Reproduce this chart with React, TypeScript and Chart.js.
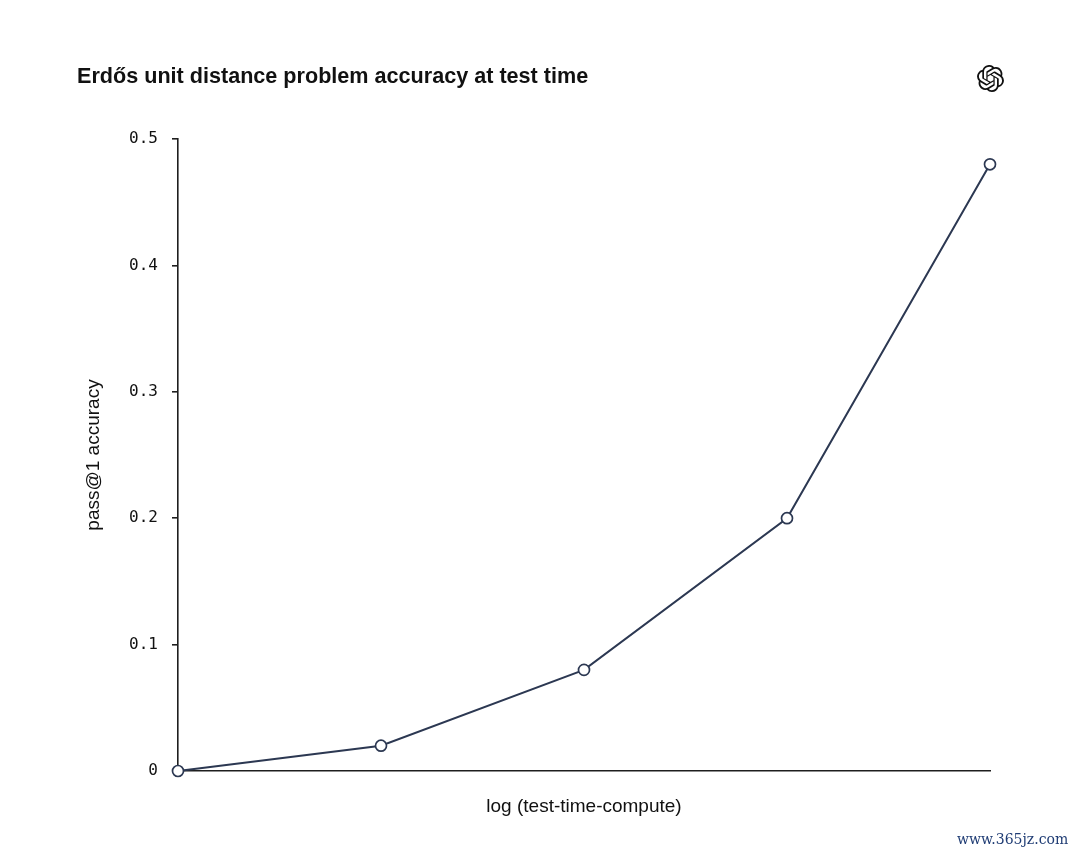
import React, { useEffect, useRef } from "react";
import { Chart, registerables } from "chart.js";

Chart.register(...registerables);

const title = "Erdős unit distance problem accuracy at test time";
const xTitle = "log (test-time-compute)";
const yTitle = "pass@1 accuracy";
const computeSteps = ["1", "2", "3", "4", "5"];
const accuracy = [0, 0.02, 0.08, 0.2, 0.48];
const yTicks = [0, 0.1, 0.2, 0.3, 0.4, 0.5];
const watermark = "www.365jz.com";

const LINE = "#2c3852";
const AXIS = "#1e1e1e";

export default function App() {
  const ref = useRef<HTMLCanvasElement | null>(null);

  useEffect(() => {
    document.body.style.margin = "0";
    const ctx = ref.current;
    if (!ctx) return;
    const chart = new Chart(ctx, {
      type: "line",
      data: {
        labels: computeSteps,
        datasets: [
          {
            data: accuracy,
            borderColor: LINE,
            borderWidth: 2,
            pointRadius: 5.5,
            pointBorderWidth: 1.7,
            pointBackgroundColor: "#ffffff",
            pointBorderColor: LINE,
            tension: 0,
            clip: false as any,
          },
        ],
      },
      options: {
        animation: false,
        responsive: false,
        maintainAspectRatio: false,
        devicePixelRatio: 1,
        layout: { padding: { top: 139, right: 90, bottom: 0, left: 0 } },
        plugins: { legend: { display: false }, tooltip: { enabled: false }, title: { display: false } },
        scales: {
          x: {
            type: "category",
            offset: false,
            grid: { display: false },
            border: { display: true, color: AXIS, width: 1.6 },
            ticks: { display: false },
            title: {
              display: true,
              text: xTitle,
              color: "#111",
              font: { family: "'Liberation Sans', Arial, sans-serif", size: 19 },
              padding: { top: 0, bottom: 38 },
            },
            afterFit: (s: any) => {
              s.height = 85;
            },
          },
          y: {
            min: 0,
            max: 0.5,
            afterBuildTicks: (s: any) => {
              s.ticks = yTicks.map((v) => ({ value: v }));
            },
            grid: {
              drawOnChartArea: false,
              drawTicks: true,
              tickLength: 6,
              color: AXIS,
              lineWidth: 1.6,
            },
            border: { display: true, color: AXIS, width: 1.6 },
            ticks: {
              padding: 14,
              color: "#111",
              font: { family: "'DejaVu Sans Mono', monospace", size: 16 },
              callback: (v: any) => String(Number(v)),
            },
            title: {
              display: true,
              text: yTitle,
              color: "#111",
              font: { family: "'Liberation Sans', Arial, sans-serif", size: 19 },
              padding: { top: 82, bottom: 0 },
            },
            afterFit: (s: any) => {
              s.width = 178;
            },
          },
        },
      },
    });
    return () => chart.destroy();
  }, []);

  return (
    <div style={{ position: "absolute", left: 0, top: 0, width: 1080, height: 856, background: "#fff", overflow: "hidden" }}>
      <canvas ref={ref} width={1080} height={856} style={{ position: "absolute", left: 0, top: 0, width: 1080, height: 856 }} />
      <div
        style={{
          position: "absolute",
          left: 77,
          top: 63,
          fontFamily: "'Liberation Sans', Arial, sans-serif",
          fontWeight: 700,
          fontSize: 21.6,
          color: "#111",
          whiteSpace: "nowrap",
        }}
      >
        {title}
      </div>
      <svg
        viewBox="0 0 24 24"
        width={27}
        height={27}
        style={{ position: "absolute", left: 977, top: 65 }}
      >
        <path
          fill="#111"
          d="M22.2819 9.8211a5.9847 5.9847 0 0 0-.5157-4.9108 6.0462 6.0462 0 0 0-6.5098-2.9A6.0651 6.0651 0 0 0 4.9807 4.1818a5.9847 5.9847 0 0 0-3.9977 2.9 6.0462 6.0462 0 0 0 .7427 7.0966 5.98 5.98 0 0 0 .511 4.9107 6.051 6.051 0 0 0 6.5146 2.9001A5.9847 5.9847 0 0 0 13.2599 24a6.0557 6.0557 0 0 0 5.7718-4.2058 5.9894 5.9894 0 0 0 3.9977-2.9001 6.0557 6.0557 0 0 0-.7475-7.0729zm-9.022 12.6081a4.4755 4.4755 0 0 1-2.8764-1.0408l.1419-.0804 4.7783-2.7582a.7948.7948 0 0 0 .3927-.6813v-6.7369l2.02 1.1686a.071.071 0 0 1 .038.052v5.5826a4.504 4.504 0 0 1-4.4945 4.4944zm-9.6607-4.1254a4.4708 4.4708 0 0 1-.5346-3.0137l.142.0852 4.783 2.7582a.7712.7712 0 0 0 .7806 0l5.8428-3.3685v2.3324a.0804.0804 0 0 1-.0332.0615L9.74 19.9502a4.4992 4.4992 0 0 1-6.1408-1.6464zM2.3408 7.8956a4.485 4.485 0 0 1 2.3655-1.9728V11.6a.7664.7664 0 0 0 .3879.6765l5.8144 3.3543-2.0201 1.1685a.0757.0757 0 0 1-.071 0l-4.8303-2.7865A4.504 4.504 0 0 1 2.3408 7.872zm16.5963 3.8558L13.1038 8.364 15.1192 7.2a.0757.0757 0 0 1 .071 0l4.8303 2.7913a4.4944 4.4944 0 0 1-.6765 8.1042v-5.6772a.79.79 0 0 0-.407-.667zm2.0107-3.0231l-.142-.0852-4.7735-2.7818a.7759.7759 0 0 0-.7854 0L9.409 9.2297V6.8974a.0662.0662 0 0 1 .0284-.0615l4.8303-2.7866a4.4992 4.4992 0 0 1 6.6802 4.66zM8.3065 12.863l-2.02-1.1638a.0804.0804 0 0 1-.038-.0567V6.0742a4.4992 4.4992 0 0 1 7.3757-3.4537l-.142.0805L8.704 5.459a.7948.7948 0 0 0-.3927.6813zm1.0976-2.3654l2.602-1.4998 2.6069 1.4998v2.9994l-2.5974 1.4997-2.6067-1.4997Z"
        />
      </svg>
      <div
        style={{
          position: "absolute",
          left: 957,
          top: 831,
          fontFamily: "'DejaVu Serif', 'Liberation Serif', serif",
          fontSize: 14,
          color: "#1f3c74",
          whiteSpace: "nowrap",
        }}
      >
        {watermark}
      </div>
    </div>
  );
}
